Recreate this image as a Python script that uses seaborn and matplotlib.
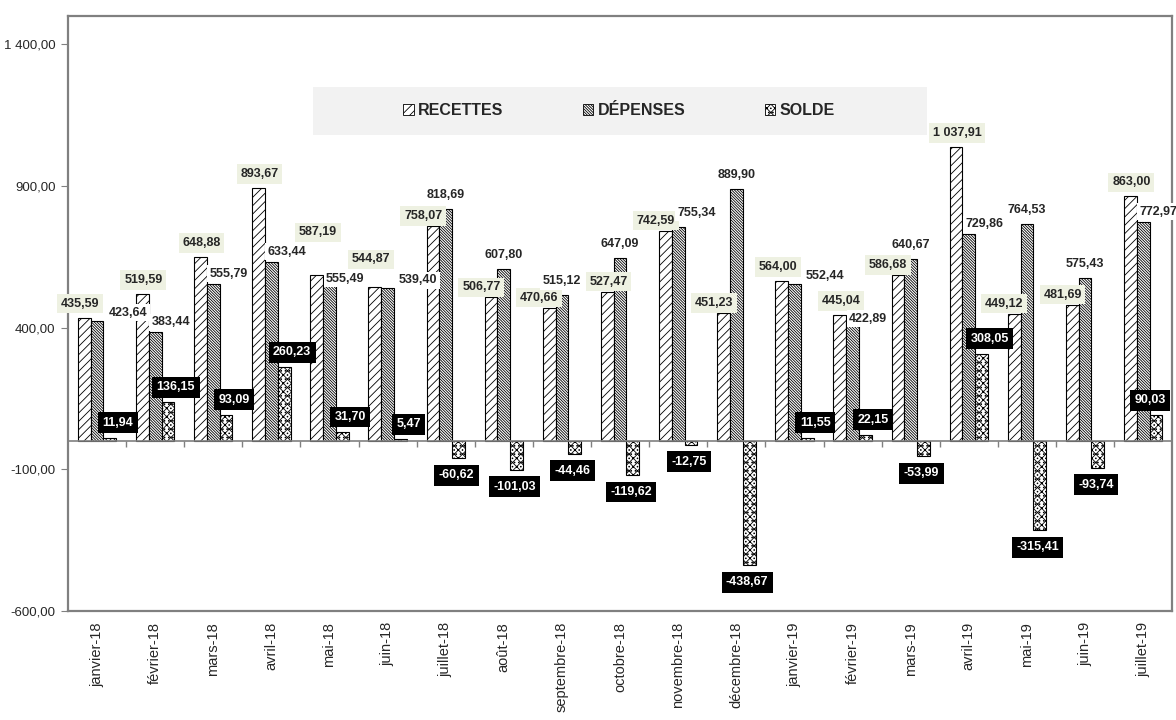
import seaborn as sns
import matplotlib.pyplot as plt
import matplotlib.patches as mpatches
import numpy as np
import pandas as pd

# data
months = ["janvier-18", "février-18", "mars-18", "avril-18", "mai-18", "juin-18",
          "juillet-18", "août-18", "septembre-18", "octobre-18", "novembre-18",
          "décembre-18", "janvier-19", "février-19", "mars-19", "avril-19",
          "mai-19", "juin-19", "juillet-19"]
recettes = [435.59, 519.59, 648.88, 893.67, 587.19, 544.87, 758.07, 506.77, 470.66,
            527.47, 742.59, 451.23, 564.00, 445.04, 586.68, 1037.91, 449.12, 481.69, 863.00]
depenses = [423.64, 383.44, 555.79, 633.44, 555.49, 539.40, 818.69, 607.80, 515.12,
            647.09, 755.34, 889.90, 552.44, 422.89, 640.67, 729.86, 764.53, 575.43, 772.97]
solde = [11.94, 136.15, 93.09, 260.23, 31.70, 5.47, -60.62, -101.03, -44.46,
         -119.62, -12.75, -438.67, 11.55, 22.15, -53.99, 308.05, -315.41, -93.74, 90.03]
series = ["RECETTES", "DÉPENSES", "SOLDE"]
y_ticks = [-600, -100, 400, 900, 1400]

df = pd.DataFrame({
    "mois": months * 3,
    "serie": np.repeat(series, len(months)),
    "valeur": recettes + depenses + solde,
})

sns.set_style("white")
plt.rcParams["font.family"] = ["Liberation Sans", "DejaVu Sans"]
plt.rcParams["hatch.linewidth"] = 0.6

GRAY = "#808080"


def fr(v):
    return f"{v:,.2f}".replace(",", " ").replace(".", ",")


fig = plt.figure(figsize=(11.76, 7.2), dpi=100)
ax = fig.add_axes([0.0578, 0.1514, 0.939, 0.8264])

sns.barplot(data=df, x="mois", y="valeur", hue="serie", hue_order=series,
            width=0.66, ax=ax, legend=False, errorbar=None)

hatches = ["////", "\\\\\\\\\\\\\\\\\\\\\\\\", "xxxx...."]
for cont, h in zip(ax.containers, hatches):
    for bar in cont:
        bar.set_facecolor("white")
        bar.set_edgecolor("black")
        bar.set_linewidth(0.8)
        bar.set_hatch(h)

n = len(months)
ax.set_xlim(-0.5, n - 0.5)
ax.set_ylim(-600, 1500)

# pixels per data unit, used to keep labels apart
px_per_unit = abs(ax.transData.transform((0, 1))[1] - ax.transData.transform((0, 0))[1])
right_px = ax.transAxes.transform((1, 0))[0]


def bar_top(bar):
    return bar.get_y() + bar.get_height() if bar.get_y() >= 0 else bar.get_y()


lab_font = dict(fontsize=9, fontweight="bold", va="center", textcoords="offset pixels")
box_r = dict(boxstyle="square,pad=0.3", fc="#eef1e2", ec="none")
box_d = dict(boxstyle="square,pad=0.2", fc="white", ec="none")
box_s = dict(boxstyle="square,pad=0.35", fc="black", ec="none")

c_r, c_d, c_s = ax.containers
lab_r, lab_d = [], []
for i in range(n):
    br, bd, bs = c_r[i], c_d[i], c_s[i]
    r, d, s = bar_top(br), bar_top(bd), bar_top(bs)
    gap = abs(d - r) * px_per_unit
    xr = br.get_x() + br.get_width() / 2
    if d >= r:
        a_r = ax.annotate(fr(r), (br.get_x() + br.get_width(), r), xytext=(3, 10),
                          ha="right", bbox=box_r, zorder=5, **lab_font)
        if gap + 4 >= 16:
            a_d = ax.annotate(fr(d), (bd.get_x() + bd.get_width() / 2, d), xytext=(0, 14),
                              ha="center", bbox=box_d, zorder=6, **lab_font)
        else:
            a_d = ax.annotate(fr(d), (bd.get_x(), d), xytext=(6, 14), ha="left",
                              bbox=box_d, zorder=6, **lab_font)
    else:
        r_dx = 1 if gap >= 6 else -4
        a_r = ax.annotate(fr(r), (xr, r), xytext=(r_dx, 14), ha="center",
                          bbox=box_r, zorder=5, **lab_font)
        if gap >= 12:
            a_d = ax.annotate(fr(d), (bd.get_x(), d), xytext=(3, 10), ha="left",
                              bbox=box_d, zorder=6, **lab_font)
        elif gap >= 6:
            a_d = ax.annotate(fr(d), (bd.get_x(), d), xytext=(3, gap - 4), ha="left",
                              bbox=box_d, zorder=6, **lab_font)
        else:
            a_d = ax.annotate(fr(d), (bd.get_x() + bd.get_width(), d), xytext=(5, 8),
                              ha="left", bbox=box_d, zorder=6, **lab_font)
    lab_r.append(a_r)
    lab_d.append(a_d)
    # solde label, kept inside the plot on the right
    xs = bs.get_x() + bs.get_width() / 2
    xs_px = ax.transData.transform((xs, 0))[0]
    dx = min(8, right_px - 22 - xs_px)
    off = (dx, 15) if s >= 0 else (dx - 10, -17)
    ax.annotate(fr(s), (xs, s), xytext=off, ha="center", color="white",
                bbox=box_s, zorder=7, **lab_font)

# a recettes label that runs into the previous month's dépenses label moves
# right, or up when moving right would hit its own dépenses label
fig.canvas.draw()
renderer = fig.canvas.get_renderer()
for i in range(1, n):
    prev = lab_d[i - 1].get_bbox_patch().get_window_extent(renderer)
    cur = lab_r[i].get_bbox_patch().get_window_extent(renderer)
    own = lab_d[i].get_bbox_patch().get_window_extent(renderer)
    if prev.overlaps(cur):
        ox, oy = lab_r[i].xyann
        shift = prev.x1 - cur.x0 + 2
        if not cur.translated(shift, 0).overlaps(own):
            lab_r[i].xyann = (ox + shift, oy)
        else:
            lab_r[i].xyann = (ox, oy + prev.y1 - cur.y0 + 1)

# zero axis with category separators
ax.axhline(0, color=GRAY, lw=1.2, zorder=3)
ax.vlines(np.arange(n - 1) + 0.5, -20, 0, color=GRAY, lw=1, zorder=3)

ax.set_yticks(y_ticks)
ax.set_yticklabels([fr(t) for t in y_ticks], fontsize=9.5)
ax.set_xticks(range(n))
ax.set_xticklabels(months, rotation=90, fontsize=10.5)
ax.tick_params(axis="x", length=0, pad=8)
ax.tick_params(axis="y", length=5, color=GRAY, direction="out", pad=4, left=True)
ax.set_xlabel("")
ax.set_ylabel("")
for sp in ax.spines.values():
    sp.set_visible(True)
    sp.set_color(GRAY)
    sp.set_linewidth(1.6)

# legend: gray band with centred entries
ax.add_patch(mpatches.Rectangle((0.222, 0.80), 0.556, 0.081, transform=ax.transAxes,
                                facecolor="#f2f2f2", edgecolor="none", zorder=4))
handles = [mpatches.Patch(facecolor="white", edgecolor="black", hatch=h, lw=0.6)
           for h in hatches]
leg = ax.legend(handles, series, ncol=3, loc="center",
                bbox_to_anchor=(0.499, 0.8405), frameon=False,
                handlelength=0.65, handleheight=0.65, handletextpad=0.25,
                columnspacing=5.0, prop=dict(weight="bold", size=11.5))
leg.set_zorder(8)

plt.savefig("out.png", dpi=100)
